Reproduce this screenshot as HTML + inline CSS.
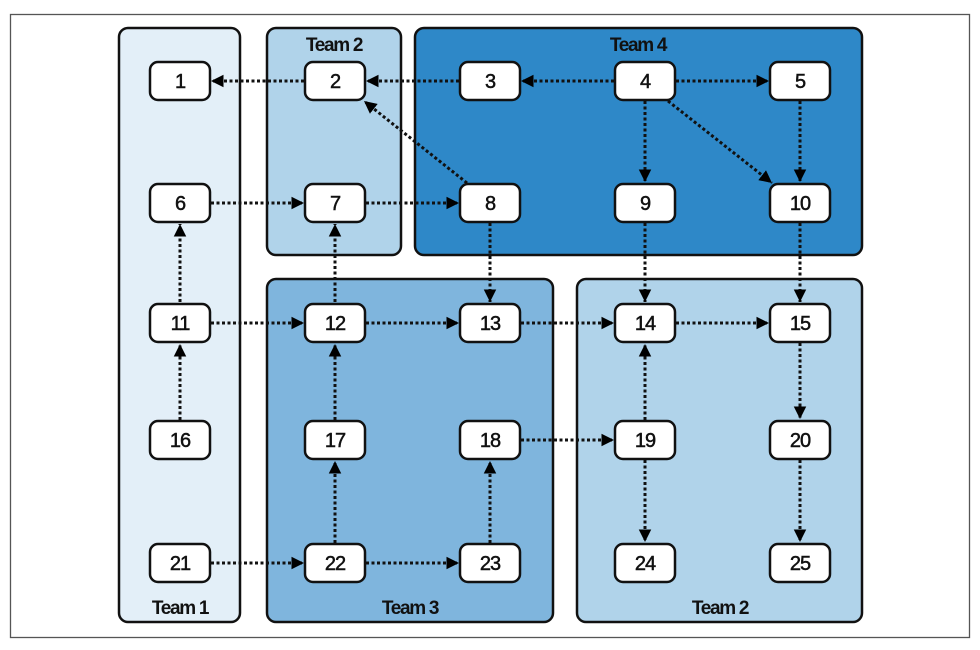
<!DOCTYPE html>
<html><head><meta charset="utf-8"><style>
html,body{margin:0;padding:0;background:#fff}
svg{display:block}
text{font-family:"Liberation Sans",sans-serif}
</style></head><body>
<svg width="980" height="650" viewBox="0 0 980 650">
<defs>
<marker id="a" viewBox="0 0 10 10" refX="10" refY="5" markerWidth="4.2" markerHeight="4.2" orient="auto" markerUnits="strokeWidth">
<path d="M0,0L10,5L0,10z" fill="#000"/></marker>
</defs>
<rect x="10.5" y="14.5" width="959" height="623" fill="none" stroke="#555" stroke-width="1.3"/>
<g stroke="#111" stroke-width="2.5">
<rect x="119" y="28" width="121" height="594" rx="9" fill="#e3eff8"/>
<rect x="267" y="28" width="134" height="227" rx="9" fill="#b0d3ea"/>
<rect x="415" y="28" width="447" height="227" rx="9" fill="#2e88c8"/>
<rect x="267" y="279" width="286" height="343" rx="9" fill="#7fb5dd"/>
<rect x="577" y="279" width="285" height="343" rx="9" fill="#b0d3ea"/>
</g>
<g font-weight="bold" font-size="19" text-anchor="middle" fill="#111" letter-spacing="-1.3">
<text x="334" y="51">Team 2</text>
<text x="638" y="51">Team 4</text>
<text x="180" y="614">Team 1</text>
<text x="410" y="614">Team 3</text>
<text x="720" y="614">Team 2</text>
</g>
<g stroke="#111" stroke-width="3" stroke-dasharray="3 2.5" fill="none" marker-end="url(#a)">
<line x1="304" y1="81" x2="211" y2="81"/>
<line x1="459" y1="81" x2="366" y2="81"/>
<line x1="614" y1="81" x2="521" y2="81"/>
<line x1="676" y1="81" x2="769" y2="81"/>
<line x1="645" y1="101" x2="645" y2="182"/>
<line x1="668" y1="101" x2="772" y2="183"/>
<line x1="800" y1="101" x2="800" y2="182"/>
<line x1="467" y1="183" x2="364" y2="101"/>
<line x1="211" y1="203" x2="304" y2="203"/>
<line x1="366" y1="203" x2="459" y2="203"/>
<line x1="490" y1="223" x2="490" y2="302"/>
<line x1="645" y1="223" x2="645" y2="302"/>
<line x1="800" y1="223" x2="800" y2="302"/>
<line x1="180" y1="302" x2="180" y2="224"/>
<line x1="211" y1="323" x2="304" y2="323"/>
<line x1="335" y1="302" x2="335" y2="224"/>
<line x1="366" y1="323" x2="459" y2="323"/>
<line x1="521" y1="323" x2="614" y2="323"/>
<line x1="676" y1="323" x2="769" y2="323"/>
<line x1="800" y1="343" x2="800" y2="419"/>
<line x1="180" y1="420" x2="180" y2="344"/>
<line x1="335" y1="420" x2="335" y2="344"/>
<line x1="521" y1="440" x2="614" y2="440"/>
<line x1="645" y1="420" x2="645" y2="344"/>
<line x1="645" y1="460" x2="645" y2="542"/>
<line x1="800" y1="460" x2="800" y2="542"/>
<line x1="211" y1="563" x2="304" y2="563"/>
<line x1="335" y1="543" x2="335" y2="461"/>
<line x1="366" y1="563" x2="459" y2="563"/>
<line x1="490" y1="543" x2="490" y2="461"/>
</g>
<g stroke="#111" stroke-width="2.5" fill="#fff">
<rect x="150" y="62" width="60" height="38" rx="8"/><rect x="305" y="62" width="60" height="38" rx="8"/><rect x="460" y="62" width="60" height="38" rx="8"/><rect x="615" y="62" width="60" height="38" rx="8"/><rect x="770" y="62" width="60" height="38" rx="8"/>
<rect x="150" y="184" width="60" height="38" rx="8"/><rect x="305" y="184" width="60" height="38" rx="8"/><rect x="460" y="184" width="60" height="38" rx="8"/><rect x="615" y="184" width="60" height="38" rx="8"/><rect x="770" y="184" width="60" height="38" rx="8"/>
<rect x="150" y="304" width="60" height="38" rx="8"/><rect x="305" y="304" width="60" height="38" rx="8"/><rect x="460" y="304" width="60" height="38" rx="8"/><rect x="615" y="304" width="60" height="38" rx="8"/><rect x="770" y="304" width="60" height="38" rx="8"/>
<rect x="150" y="421" width="60" height="38" rx="8"/><rect x="305" y="421" width="60" height="38" rx="8"/><rect x="460" y="421" width="60" height="38" rx="8"/><rect x="615" y="421" width="60" height="38" rx="8"/><rect x="770" y="421" width="60" height="38" rx="8"/>
<rect x="150" y="544" width="60" height="38" rx="8"/><rect x="305" y="544" width="60" height="38" rx="8"/><rect x="460" y="544" width="60" height="38" rx="8"/><rect x="615" y="544" width="60" height="38" rx="8"/><rect x="770" y="544" width="60" height="38" rx="8"/>
</g>
<g font-size="20" text-anchor="middle" fill="#111" stroke="#111" stroke-width="0.5" letter-spacing="-1">
<text x="180" y="88">1</text><text x="335" y="88">2</text><text x="490" y="88">3</text><text x="645" y="88">4</text><text x="800" y="88">5</text>
<text x="180" y="210">6</text><text x="335" y="210">7</text><text x="490" y="210">8</text><text x="645" y="210">9</text><text x="800" y="210">10</text>
<text x="180" y="330">11</text><text x="335" y="330">12</text><text x="490" y="330">13</text><text x="645" y="330">14</text><text x="800" y="330">15</text>
<text x="180" y="447">16</text><text x="335" y="447">17</text><text x="490" y="447">18</text><text x="645" y="447">19</text><text x="800" y="447">20</text>
<text x="180" y="570">21</text><text x="335" y="570">22</text><text x="490" y="570">23</text><text x="645" y="570">24</text><text x="800" y="570">25</text>
</g>
</svg>
</body></html>
